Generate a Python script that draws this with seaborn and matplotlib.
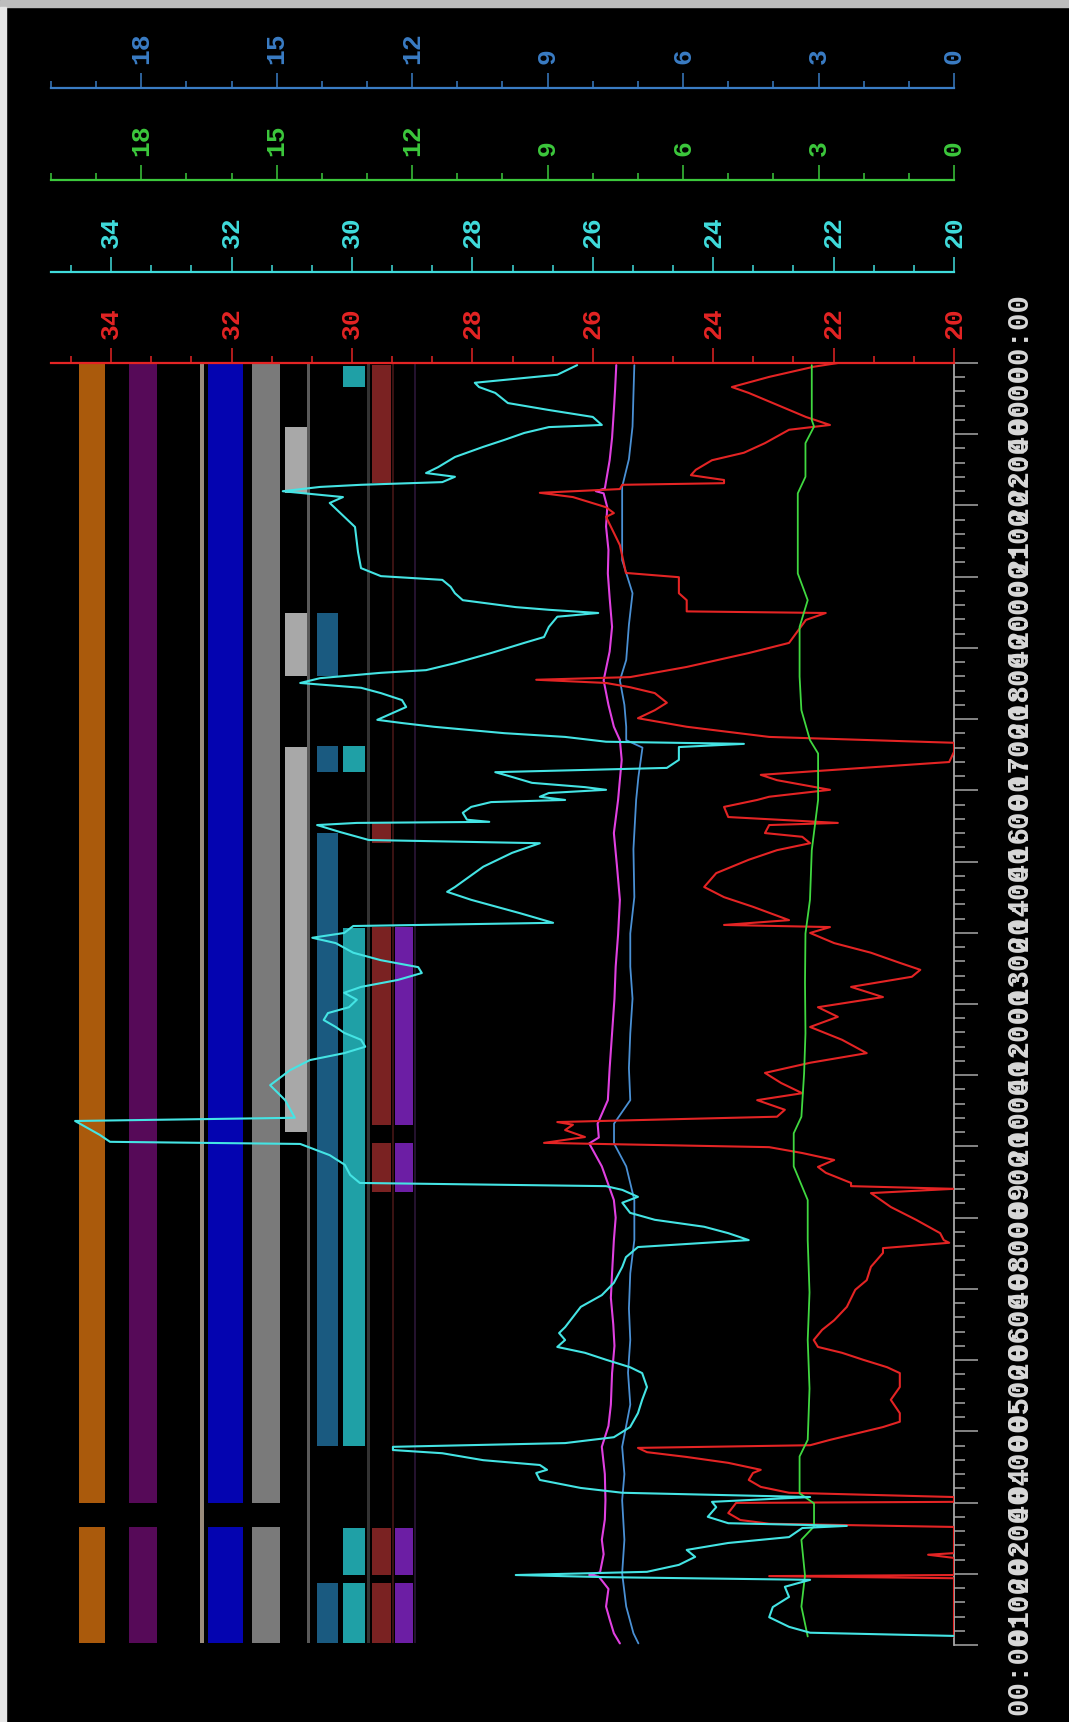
import numpy as np
import matplotlib
matplotlib.use("Agg")
import matplotlib.pyplot as plt
from matplotlib.patches import Rectangle
from matplotlib.ticker import FixedLocator
import seaborn as sns

# ---------------------------------------------------------------------------
# Trend data: (hour of day, value).  Temperatures use the 20-35 scales,
# the blue and green channels use the 0-20 scales.
# ---------------------------------------------------------------------------
cyan_trace = [
    (0.17, 20.00), (0.23, 22.39), (0.34, 22.74), (0.52, 23.07), (0.71, 23.01),
    (0.90, 22.74), (1.09, 22.81), (1.22, 22.39), (1.27, 25.78), (1.31, 27.28),
    (1.37, 25.10), (1.50, 24.57), (1.65, 24.30), (1.78, 24.44), (1.91, 23.75),
    (2.02, 22.74), (2.19, 22.52), (2.23, 21.78), (2.28, 23.75), (2.40, 24.09),
    (2.58, 23.95), (2.68, 24.02), (2.77, 22.39), (2.85, 25.51), (2.94, 26.20),
    (3.09, 26.88), (3.22, 26.94), (3.28, 26.76), (3.37, 26.88), (3.46, 27.82),
    (3.59, 28.50), (3.65, 29.32), (3.71, 29.32), (3.78, 26.46), (3.89, 25.65),
    (4.08, 25.38), (4.34, 25.25), (4.59, 25.18), (4.83, 25.10), (5.09, 25.18),
    (5.20, 25.38), (5.34, 25.78), (5.47, 26.13), (5.58, 26.59), (5.71, 26.46),
    (5.84, 26.56), (5.95, 26.46), (6.14, 26.33), (6.33, 26.20), (6.55, 25.85),
    (6.78, 25.65), (7.08, 25.51), (7.26, 25.45), (7.45, 25.25), (7.58, 23.41),
    (7.71, 23.75), (7.83, 24.15), (7.96, 24.97), (8.09, 25.38), (8.28, 25.51),
    (8.39, 25.25), (8.52, 25.51), (8.59, 25.78), (8.65, 29.87), (8.80, 30.03),
    (8.99, 30.12), (9.17, 30.37), (9.38, 30.86), (9.42, 34.02), (9.55, 34.19),
    (9.81, 34.60), (9.87, 30.95), (10.20, 31.11), (10.48, 31.36), (10.76, 31.03),
    (10.95, 30.70), (11.08, 30.13), (11.20, 29.78), (11.33, 29.85), (11.46, 30.13),
    (11.57, 30.27), (11.70, 30.47), (11.83, 30.40), (11.94, 30.05), (12.08, 29.92),
    (12.21, 30.13), (12.32, 29.85), (12.45, 29.24), (12.58, 28.84), (12.69, 28.90),
    (12.82, 29.52), (12.96, 29.98), (13.14, 30.27), (13.24, 30.66), (13.33, 30.13),
    (13.46, 29.98), (13.52, 26.66), (13.70, 27.21), (13.95, 28.02), (14.10, 28.42),
    (14.19, 28.29), (14.57, 27.82), (14.83, 27.34), (15.01, 26.88), (15.07, 29.72),
    (15.22, 30.20), (15.35, 30.58), (15.39, 29.92), (15.41, 27.72), (15.45, 28.09),
    (15.58, 28.16), (15.69, 28.02), (15.78, 27.69), (15.82, 26.46), (15.88, 26.88),
    (15.95, 26.73), (16.01, 25.78), (16.06, 26.13), (16.14, 27.01), (16.25, 27.34),
    (16.34, 27.62), (16.42, 24.77), (16.57, 24.57), (16.81, 24.57), (16.87, 23.49),
    (16.91, 25.78), (17.00, 26.46), (17.07, 27.47), (17.19, 28.64), (17.26, 29.17),
    (17.32, 29.58), (17.45, 29.32), (17.56, 29.10), (17.69, 29.17), (17.82, 29.52),
    (17.92, 29.85), (18.01, 30.86), (18.10, 30.53), (18.20, 29.52), (18.25, 28.77),
    (18.38, 28.29), (18.57, 27.69), (18.76, 27.14), (18.87, 26.81), (19.06, 26.73),
    (19.25, 26.59), (19.32, 25.91), (19.38, 26.73), (19.43, 27.28), (19.56, 28.16),
    (19.69, 28.29), (19.81, 28.36), (19.94, 28.50), (20.01, 29.52), (20.16, 29.85),
    (20.46, 29.90), (20.93, 29.95), (21.38, 30.37), (21.49, 30.15), (21.60, 31.15),
    (21.68, 30.53), (21.72, 29.85), (21.77, 28.50), (21.87, 28.29), (21.94, 28.77),
    (22.05, 28.57), (22.24, 28.29), (22.43, 27.82), (22.56, 27.47), (22.69, 27.14),
    (22.80, 26.73), (22.84, 25.85), (22.90, 25.91), (22.99, 26.00), (23.12, 26.73),
    (23.25, 27.41), (23.44, 27.62), (23.55, 27.89), (23.63, 27.96), (23.78, 26.59),
    (23.96, 26.26),
]

red_trace = [
    (0.15, 20.00), (1.25, 20.00), (1.29, 23.07), (1.31, 20.00), (1.63, 20.00),
    (1.69, 20.43), (1.72, 20.00), (2.21, 20.00), (2.27, 23.07), (2.34, 23.55),
    (2.47, 23.75), (2.66, 23.62), (2.68, 20.00), (2.77, 20.00), (2.85, 22.74),
    (2.96, 23.21), (3.09, 23.41), (3.22, 23.34), (3.28, 23.21), (3.41, 23.75),
    (3.52, 24.44), (3.61, 25.10), (3.69, 25.25), (3.74, 22.39), (3.84, 22.06),
    (3.97, 21.58), (4.08, 21.18), (4.18, 20.90), (4.34, 20.90), (4.59, 21.05),
    (4.83, 20.90), (5.09, 20.90), (5.20, 21.11), (5.34, 21.51), (5.47, 21.86),
    (5.58, 22.26), (5.71, 22.33), (5.90, 22.19), (6.08, 21.99), (6.33, 21.78),
    (6.65, 21.64), (6.83, 21.45), (7.08, 21.38), (7.34, 21.18), (7.43, 21.18),
    (7.53, 20.08), (7.58, 20.17), (7.71, 20.23), (7.96, 20.63), (8.20, 21.05),
    (8.46, 21.38), (8.54, 20.00), (8.59, 21.71), (8.65, 21.71), (8.84, 22.13),
    (8.95, 22.26), (9.08, 21.99), (9.21, 22.52), (9.32, 23.07), (9.40, 26.81),
    (9.51, 26.13), (9.64, 26.46), (9.74, 26.33), (9.79, 26.59), (9.89, 22.94),
    (10.02, 22.81), (10.20, 23.27), (10.33, 22.52), (10.52, 22.87), (10.71, 23.14),
    (10.90, 22.39), (11.08, 21.45), (11.33, 21.86), (11.57, 22.39), (11.76, 21.93),
    (11.94, 22.26), (12.13, 21.18), (12.32, 21.71), (12.51, 20.70), (12.64, 20.56),
    (12.77, 20.90), (12.96, 21.38), (13.14, 21.99), (13.33, 22.39), (13.44, 22.06),
    (13.48, 23.82), (13.57, 22.74), (13.82, 23.34), (14.00, 23.82), (14.19, 24.15),
    (14.45, 23.95), (14.70, 23.41), (14.88, 22.94), (15.01, 22.39), (15.13, 22.52),
    (15.20, 23.14), (15.35, 23.07), (15.39, 21.93), (15.50, 23.75), (15.69, 23.82),
    (15.82, 23.27), (15.88, 23.07), (16.01, 22.06), (16.19, 22.94), (16.29, 23.21),
    (16.53, 20.08), (16.72, 20.00), (16.89, 20.00), (17.00, 23.07), (17.19, 24.44),
    (17.35, 25.25), (17.50, 24.97), (17.64, 24.77), (17.82, 24.97), (17.93, 25.38),
    (18.01, 25.78), (18.07, 26.94), (18.12, 25.38), (18.31, 24.44), (18.57, 23.41),
    (18.76, 22.74), (19.19, 22.46), (19.32, 22.13), (19.35, 24.44), (19.56, 24.44),
    (19.69, 24.57), (19.99, 24.57), (20.07, 25.45), (20.59, 25.55), (21.12, 25.78),
    (21.19, 25.65), (21.30, 25.78), (21.49, 26.33), (21.57, 26.88), (21.64, 25.55),
    (21.72, 25.51), (21.75, 23.82), (21.81, 23.82), (21.90, 24.37), (22.00, 24.29),
    (22.18, 24.02), (22.32, 23.49), (22.50, 23.14), (22.75, 22.74), (22.84, 22.06),
    (22.99, 22.46), (23.25, 23.01), (23.44, 23.41), (23.55, 23.69), (23.74, 23.07),
    (23.93, 22.33), (24.00, 21.93),
]

magenta_trace = [
    (0.03, 25.55), (0.22, 25.65), (0.48, 25.72), (0.72, 25.78), (1.05, 25.74),
    (1.28, 25.90), (1.31, 26.06), (1.36, 25.88), (1.70, 25.82), (1.97, 25.85),
    (2.35, 25.80), (2.71, 25.79), (3.20, 25.80), (3.71, 25.85), (4.10, 25.74),
    (4.50, 25.70), (5.09, 25.68), (5.60, 25.64), (6.00, 25.66), (6.50, 25.70),
    (6.96, 25.68), (7.58, 25.65), (8.00, 25.62), (8.33, 25.65), (8.96, 25.85),
    (9.39, 26.06), (9.50, 25.90), (9.76, 25.92), (10.20, 25.75), (10.80, 25.72),
    (11.45, 25.68), (12.10, 25.64), (12.70, 25.62), (13.30, 25.58), (13.95, 25.55),
    (14.60, 25.60), (15.20, 25.65), (15.82, 25.58), (16.20, 25.55), (16.57, 25.52),
    (16.94, 25.55), (17.19, 25.65), (17.60, 25.74), (18.06, 25.82), (18.60, 25.72),
    (19.06, 25.68), (19.60, 25.72), (20.06, 25.75), (20.50, 25.74), (20.94, 25.78),
    (21.30, 25.76), (21.56, 25.82), (21.60, 25.95), (21.65, 25.80), (22.18, 25.72),
    (22.60, 25.68), (23.12, 25.65), (23.50, 25.63), (23.96, 25.61),
]

blue_trace = [
    (0.03, 6.99), (0.22, 7.10), (0.72, 7.26), (1.34, 7.35), (1.97, 7.30),
    (2.71, 7.35), (3.20, 7.30), (3.71, 7.35), (4.50, 7.17), (5.10, 7.22),
    (5.71, 7.17), (6.30, 7.20), (6.96, 7.17), (7.58, 7.08), (8.33, 7.08),
    (8.96, 7.26), (9.39, 7.53), (9.76, 7.53), (10.20, 7.17), (10.80, 7.20),
    (11.45, 7.17), (12.10, 7.12), (12.70, 7.17), (13.32, 7.17), (14.00, 7.08),
    (14.90, 7.10), (15.82, 7.04), (16.25, 6.99), (16.80, 6.90), (16.94, 7.26),
    (17.19, 7.26), (17.60, 7.30), (18.06, 7.40), (18.44, 7.26), (19.10, 7.20),
    (19.69, 7.12), (20.31, 7.35), (21.00, 7.35), (21.68, 7.35), (22.20, 7.20),
    (22.81, 7.12), (23.40, 7.10), (23.96, 7.08),
]

green_trace = [
    (0.16, 3.24), (0.72, 3.38), (1.30, 3.30), (1.97, 3.38), (2.22, 3.10),
    (2.65, 3.10), (2.84, 3.42), (3.53, 3.42), (3.84, 3.24), (4.80, 3.20),
    (5.71, 3.24), (6.60, 3.20), (7.58, 3.24), (8.33, 3.24), (8.96, 3.55),
    (9.58, 3.55), (9.89, 3.38), (10.70, 3.32), (11.45, 3.29), (12.40, 3.30),
    (13.32, 3.29), (13.95, 3.19), (14.88, 3.15), (15.82, 3.01), (16.69, 3.01),
    (16.94, 3.19), (17.50, 3.38), (18.13, 3.42), (19.06, 3.42), (19.56, 3.24),
    (20.06, 3.46), (21.56, 3.46), (21.87, 3.29), (22.50, 3.29), (22.81, 3.10),
    (22.93, 3.15), (23.96, 3.15),
]

# Status channels: (start hour, end hour) of each active period.
orange_on = [(0.04, 2.21), (2.66, 24.0)]
plum_on = [(0.04, 2.21), (2.66, 24.0)]
navy_on = [(0.04, 2.21), (2.66, 24.0)]
grey_on = [(0.04, 2.21), (2.66, 24.0)]
silver_on = [(9.60, 16.81), (18.14, 19.32), (21.57, 22.80)]
steel_on = [(0.04, 1.16), (3.73, 15.20), (16.34, 16.83), (18.14, 19.32)]
teal_on = [(0.04, 1.16), (1.31, 2.19), (3.73, 13.42), (16.34, 16.83), (23.55, 23.95)]
maroon_on = [(0.04, 1.16), (1.31, 2.19), (8.48, 9.40), (9.73, 13.44),
             (15.01, 15.39), (21.75, 23.96)]
violet_on = [(0.04, 1.16), (1.31, 2.19), (8.48, 9.40), (9.73, 13.44)]
full_day = [(0.04, 24.0)]

time_tick_labels = ["00:00:00", "01:20:00", "02:40:00", "04:00:00", "05:20:00",
                    "06:40:00", "08:00:00", "09:20:00", "10:40:00", "12:00:00",
                    "13:20:00", "14:40:00", "16:00:00", "17:20:00", "18:40:00",
                    "20:00:00", "21:20:00", "22:40:00", "00:00:00"]

# ---------------------------------------------------------------------------
# Styling
# ---------------------------------------------------------------------------
sns.set_style("dark")
plt.rcParams["font.family"] = ["Liberation Mono", "DejaVu Sans Mono"]
plt.rcParams["font.weight"] = "bold"

W, H = 1069, 1722
fig = plt.figure(figsize=(W / 100, H / 100), dpi=100, facecolor="black")

# thin light frame on the top and left edges
fig.patches.append(Rectangle((0, 1 - 7 / H), 1, 7 / H, transform=fig.transFigure,
                             color="#bdbdbd", zorder=0))
fig.patches.append(Rectangle((0, 0), 6 / W, 1 - 7 / H, transform=fig.transFigure,
                             color="#e6e6e6", zorder=0))

PL, PR = 51 / W, 954 / W
PT, PB = 363, 1645
ax = fig.add_axes([PL, 1 - PB / H, PR - PL, (PB - PT) / H])
ax.set_zorder(3)
ax.patch.set_visible(False)
ax.set_xlim(35, 20)
ax.set_ylim(0, 24)

RED, CYAN, GREEN, BLUE = "#e42424", "#40dcdc", "#3cc83c", "#3a7cc4"
TICK_KW = dict(direction="out", width=1.1)
VALUE_FONT = 19

# ---- status lanes (center, width in axis units, colour) ----
lanes = [
    (orange_on, 34.32, 0.44, "#aa5a0c"),
    (plum_on, 33.47, 0.46, "#560a58"),
    (full_day, 32.49, 0.07, "#9a8c7c"),
    (navy_on, 32.10, 0.57, "#0404b0"),
    (grey_on, 31.43, 0.46, "#7a7a7a"),
    (silver_on, 30.93, 0.36, "#a8a8a8"),
    (full_day, 30.73, 0.05, "#5a5a5a"),
    (steel_on, 30.41, 0.35, "#1a5a80"),
    (teal_on, 29.97, 0.37, "#1fa0a6"),
    (full_day, 29.73, 0.05, "#333333"),
    (maroon_on, 29.51, 0.33, "#7a2222"),
    (full_day, 29.32, 0.04, "#3a1212"),
    (violet_on, 29.14, 0.30, "#6c1ea4"),
    (full_day, 28.95, 0.04, "#24122e"),
]
for periods, centre, width, colour in lanes:
    starts = [s for s, e in periods]
    spans = [e - s for s, e in periods]
    ax.bar([centre] * len(periods), spans, bottom=starts, width=width,
           color=colour, linewidth=0, zorder=1)

# ---- trends ----
def draw(trace, axis, colour, lw, z):
    t = [p[0] for p in trace]
    v = [p[1] for p in trace]
    sns.lineplot(x=v, y=t, sort=False, estimator=None, ax=axis, color=colour,
                 linewidth=lw, zorder=z, legend=False)

# blue channel on its own 0-20 scale, drawn beneath the main axes
ax_blue = ax.twiny()
ax_blue.set_zorder(2)
ax_blue.set_xlim(20, 0)
ax_blue.set_axis_off()
draw(blue_trace, ax_blue, "#4a90d4", 1.3, 2)

draw(magenta_trace, ax, "#e040e0", 1.5, 3)
draw(red_trace, ax, RED, 1.5, 4)

# green channel on its own 0-20 scale, drawn above the temperatures
ax_green = ax.twiny()
ax_green.set_zorder(4)
ax_green.set_xlim(20, 0)
ax_green.set_axis_off()
draw(green_trace, ax_green, "#40d840", 1.3, 5)

ax_cyan = ax.twiny()
ax_cyan.set_zorder(5)
ax_cyan.set_xlim(35, 20)
ax_cyan.set_axis_off()
draw(cyan_trace, ax_cyan, "#44e4e4", 1.5, 6)
for a in (ax_blue, ax_green, ax_cyan):
    a.set_ylim(0, 24)

# ---- main axes frame: red value scale on top, time scale on the right ----
for s in ("left", "bottom"):
    ax.spines[s].set_visible(False)
ax.spines["top"].set_color(RED)
ax.spines["top"].set_linewidth(1.6)
ax.spines["right"].set_color("#a8a8a8")
ax.spines["right"].set_linewidth(1.3)

temp_major = list(range(20, 35, 2))
temp_minor = [20 + k * 2 / 3 for k in range(23) if k % 3]
level_major = list(range(0, 19, 3))
level_minor = [k for k in range(0, 21) if k % 3]

ax.xaxis.tick_top()
ax.set_xticks(temp_major, labels=[str(v) for v in temp_major], rotation=90)
ax.xaxis.set_minor_locator(FixedLocator(temp_minor))
ax.tick_params(axis="x", which="major", length=10.5, colors=RED,
               labelsize=VALUE_FONT, pad=7, **TICK_KW)
ax.tick_params(axis="x", which="minor", length=5, colors=RED, **TICK_KW)

ax.yaxis.tick_right()
hour_major = np.linspace(0, 24, 19)
hour_minor = [k * 4 / 15 for k in range(91) if k % 5]
ax.set_yticks(hour_major, labels=time_tick_labels, rotation=90, va="center")
ax.yaxis.set_minor_locator(FixedLocator(hour_minor))
ax.tick_params(axis="y", which="major", length=17, color="#a8a8a8",
               labelcolor="#d8d8d8", labelsize=21, pad=20, **TICK_KW)
ax.tick_params(axis="y", which="minor", length=8, color="#a8a8a8", **TICK_KW)
ax.grid(False)

# ---- stacked scale rulers above the plot ----
def ruler(y_px, lo, hi, major, minor, colour):
    r = fig.add_axes([PL, 1 - y_px / H, PR - PL, 1e-6])
    r.set_xlim(hi, lo)
    r.patch.set_visible(False)
    for s in ("left", "right", "bottom"):
        r.spines[s].set_visible(False)
    r.spines["top"].set_color(colour)
    r.spines["top"].set_linewidth(1.6)
    r.set_yticks([])
    r.xaxis.tick_top()
    r.set_xticks(major, labels=[str(v) for v in major], rotation=90)
    r.xaxis.set_minor_locator(FixedLocator(minor))
    r.tick_params(axis="x", which="major", length=10.5, colors=colour,
                  labelsize=VALUE_FONT, pad=7, **TICK_KW)
    r.tick_params(axis="x", which="minor", length=5, colors=colour, **TICK_KW)
    r.grid(False)
    return r

ruler(272, 20, 35, temp_major, temp_minor, CYAN)
ruler(180, 0, 20, level_major, level_minor, GREEN)
ruler(88, 0, 20, level_major, level_minor, BLUE)

fig.savefig("out.png", dpi=100, facecolor=fig.get_facecolor())
